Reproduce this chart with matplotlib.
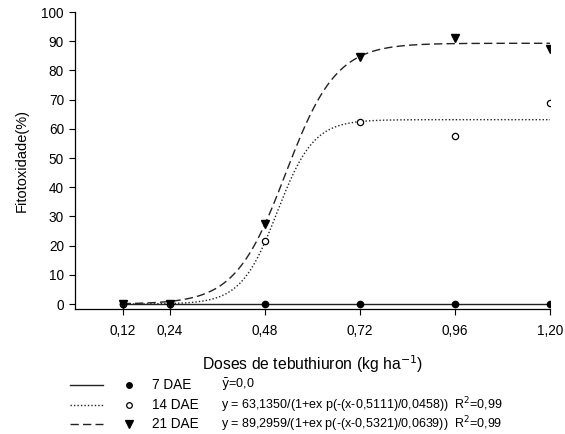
import numpy as np
import matplotlib
matplotlib.use("Agg")
import matplotlib.pyplot as plt
from matplotlib.lines import Line2D

plt.rcParams["font.family"] = ["Liberation Sans", "DejaVu Sans"]

# doses (kg/ha) and observed phytotoxicity (%)
doses = [0.12, 0.24, 0.48, 0.72, 0.96, 1.20]
dose_labels = ["0,12", "0,24", "0,48", "0,72", "0,96", "1,20"]
obs_7 = [0, 0, 0, 0, 0, 0]
obs_14 = [0, 0, 21.5, 62.5, 57.5, 69.0]
obs_21 = [0, 0, 27.5, 84.5, 91.0, 87.5]

# logistic fits: a / (1 + exp(-(x - x0) / b))
fit_14 = (63.1350, 0.5111, 0.0458)
fit_21 = (89.2959, 0.5321, 0.0639)

series_names = ["7 DAE", "14 DAE", "21 DAE"]
equations = [
    r"$\bar{\mathrm{y}}$=0,0",
    "y = 63,1350/(1+ex p(-(x-0,5111)/0,0458))  R$^2$=0,99",
    "y = 89,2959/(1+ex p(-(x-0,5321)/0,0639))  R$^2$=0,99",
]
yticks = list(range(0, 101, 10))


def logistic(x, p):
    a, x0, b = p
    return a / (1 + np.exp(-(x - x0) / b))


W, H = 565, 434
fig = plt.figure(figsize=(W / 100, H / 100), dpi=100)
ax = fig.add_axes([75 / W, 1 - 309 / H, (550 - 75) / W, (309 - 12) / H])

xs = np.linspace(doses[0], doses[-1], 300)
line_kw = dict(color="#222222", lw=1.0)
ax.plot([doses[0], doses[-1]], [0, 0], ls="-", **line_kw)
ax.plot(xs, logistic(xs, fit_14), ls=(0, (1, 1.5)), **line_kw)
ax.plot(xs, logistic(xs, fit_21), ls=(0, (6, 3)), **line_kw)

ax.plot(doses, obs_7, "o", ms=4.5, mfc="black", mec="black", ls="none", zorder=5)
ax.plot(doses, obs_14, "o", ms=4.5, mfc="white", mec="black", mew=0.9, ls="none", zorder=5)
ax.plot(doses, obs_21, "v", ms=6, mfc="black", mec="black", ls="none", zorder=6)

ax.set_xlim(0.0, 1.20)
ax.set_ylim(-1.7, 100)
ax.set_xticks(doses)
ax.set_xticklabels(dose_labels)
ax.set_yticks(yticks)
ax.spines["top"].set_visible(False)
ax.spines["right"].set_visible(False)
for s in ("left", "bottom"):
    ax.spines[s].set_linewidth(0.9)
ax.tick_params(direction="out", length=4, width=0.8, labelsize=9.8)
ax.tick_params(axis="x", pad=7)
ax.tick_params(axis="y", pad=4)

ax.set_xlabel("Doses de tebuthiuron (kg ha$^{-1}$)", fontsize=11.3, labelpad=11)
ax.set_ylabel("Fitotoxidade(%)", fontsize=10.5, labelpad=9)

# legend block below the plot, laid out in figure pixels
styles = [("-", "o", "black", 4.5), ((0, (1, 1.5)), "o", "white", 4.5), ((0, (6, 3)), "v", "black", 6)]
rows_y = [385, 405, 424]
for (ls, mk, fc, ms), name, eq, y in zip(styles, series_names, equations, rows_y):
    yf = 1 - y / H
    fig.add_artist(Line2D([70 / W, 103 / W], [yf, yf], ls=ls, color="#222222", lw=1.0,
                          transform=fig.transFigure))
    fig.add_artist(Line2D([129 / W], [yf], marker=mk, ms=ms * 0.9, mfc=fc, mec="black",
                          mew=0.9, ls="none", transform=fig.transFigure))
    fig.text(152 / W, yf, name, fontsize=9.8, va="center", ha="left")
    fig.text(221 / W, yf, eq, fontsize=9.0, va="center", ha="left")

fig.savefig("out.png", dpi=100)
